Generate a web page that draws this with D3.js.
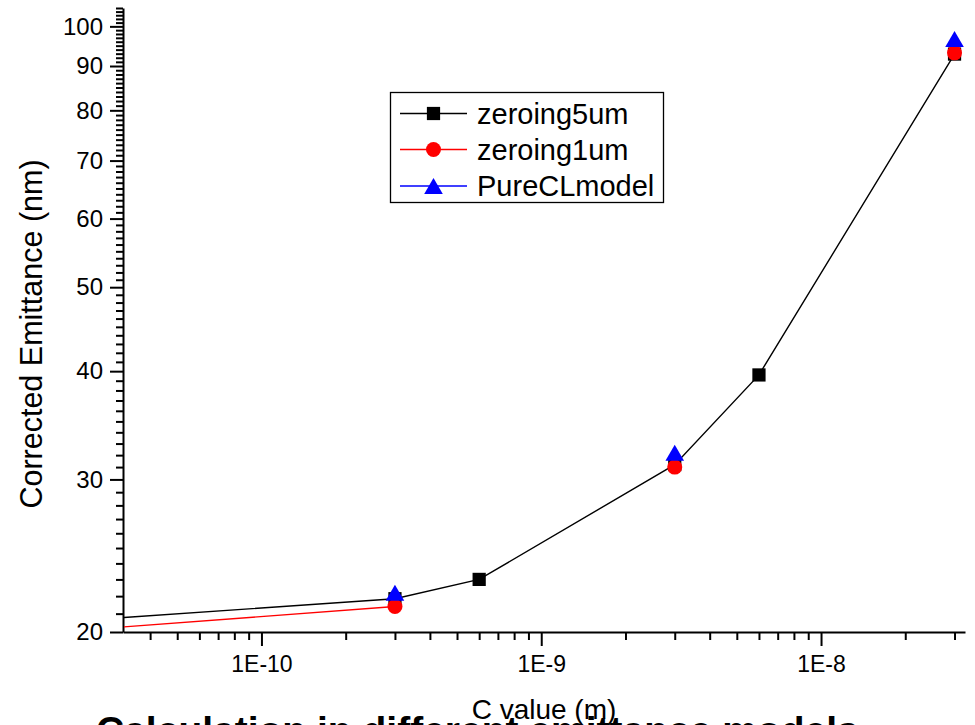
<!DOCTYPE html>
<html>
<head>
<meta charset="utf-8">
<script src="https://cdn.jsdelivr.net/npm/d3@7"></script>
<style>
  body { margin: 0; background: #fff; }
  svg { display: block; }
  text { font-family: "Liberation Sans", Arial, sans-serif; fill: #000; }
</style>
</head>
<body>
<svg id="chart" width="975" height="725"></svg>
<script>
// C values (m) and corrected emittance (nm) for each model; null = no measurement
const cValues     = [3e-11, 3e-10, 6e-10, 3e-9, 6e-9, 3e-8];
const zeroing5um  = [20.75, 21.85, 23.0, 31.2, 39.6, 92.9];
const zeroing1um  = [20.24, 21.4, null, 31.0, null, 93.2];
const pureCLmodel = [null, 22.2, null, 32.2, null, 96.7];
const seriesNames = ["zeroing5um", "zeroing1um", "PureCLmodel"];

const xTickValues = [1e-10, 1e-9, 1e-8];
const xTickLabels = ["1E-10", "1E-9", "1E-8"];
const yTickValues = [20, 30, 40, 50, 60, 70, 80, 90, 100];
const yTickLabels = ["20", "30", "40", "50", "60", "70", "80", "90", "100"];

const xTitle = "C value (m)";
const yTitle = "Corrected Emittance (nm)";
const caption = "Calculation in different emittance models";

const svg = d3.select("#chart");
const plotLeft = 123, plotRight = 965, plotTop = 8, plotBottom = 632;

const x = d3.scaleLog().domain([3.2e-11, 3.27e-8]).range([plotLeft, plotRight]);
const y = d3.scaleLog().domain([20, 105]).range([plotBottom, plotTop]);

// minor ticks: 2..9 per decade on x, every unit on y
const xMinor = [];
for (let e = -11; e <= -8; e++) for (let m = 2; m <= 9; m++) {
  const v = m * Math.pow(10, e);
  if (v >= x.domain()[0] && v <= x.domain()[1]) xMinor.push(v);
}
const yMinor = d3.range(21, 106).filter(v => v % 10 !== 0);

// caption (bold, runs off the bottom edge)
svg.append("text")
  .attr("x", 96).attr("y", 744)
  .attr("font-size", 39).attr("font-weight", "bold")
  .text(caption);

// axes
const gx = svg.append("g").attr("transform", `translate(0,${plotBottom})`);
gx.append("g").call(d3.axisBottom(x).tickValues(xMinor).tickFormat("").tickSize(8).tickSizeOuter(0))
  .call(g => g.select(".domain").remove());
gx.append("g").call(d3.axisBottom(x).tickValues(xTickValues)
    .tickFormat((d, i) => xTickLabels[i]).tickSize(14).tickSizeOuter(0).tickPadding(10))
  .call(g => g.selectAll("text").attr("font-size", 23).attr("font-family", null));

const gy = svg.append("g").attr("transform", `translate(${plotLeft},0)`);
gy.append("g").call(d3.axisLeft(y).tickValues(yMinor).tickFormat("").tickSize(7).tickSizeOuter(0))
  .call(g => g.select(".domain").remove());
gy.append("g").call(d3.axisLeft(y).tickValues(yTickValues)
    .tickFormat((d, i) => yTickLabels[i]).tickSize(13).tickSizeOuter(0).tickPadding(7))
  .call(g => g.selectAll("text").attr("font-size", 24).attr("font-family", null));

svg.selectAll(".tick line").attr("stroke", "#000").attr("stroke-width", 2);
svg.selectAll(".domain").attr("stroke", "#000").attr("stroke-width", 2);

// axis titles
svg.append("text")
  .attr("transform", `translate(42,334) rotate(-90)`)
  .attr("text-anchor", "middle").attr("font-size", 30.5)
  .text(yTitle);
svg.append("text")
  .attr("x", (plotLeft + plotRight) / 2).attr("y", 719)
  .attr("text-anchor", "middle").attr("font-size", 28)
  .text(xTitle);

// plot area clip
svg.append("clipPath").attr("id", "plot-clip")
  .append("rect").attr("x", plotLeft + 1).attr("y", plotTop)
  .attr("width", plotRight - plotLeft).attr("height", plotBottom - plotTop - 1);
const plot = svg.append("g").attr("clip-path", "url(#plot-clip)");

const series = [
  { name: seriesNames[0], values: zeroing5um, color: "#000000", shape: d3.symbolSquare, size: 175 },
  { name: seriesNames[1], values: zeroing1um, color: "#ff0000", shape: d3.symbolCircle, size: 177 },
  { name: seriesNames[2], values: pureCLmodel, color: "#0000ff", shape: d3.symbolTriangle, size: 150 }
];

const line = d3.line()
  .defined(d => d[1] != null)
  .x(d => x(d[0])).y(d => y(d[1]));

series.forEach(s => {
  plot.append("path")
    .datum(cValues.map((c, i) => [c, s.values[i]]))
    .attr("fill", "none").attr("stroke", s.color).attr("stroke-width", 1.4)
    .attr("d", line);
});

function markerPath(s) {
  return d3.symbol().type(s.shape).size(s.size)();
}
// shift the triangle so its bounding box is centred on the point
function markerOffset(s) {
  if (s.shape === d3.symbolTriangle) {
    const b = Math.sqrt(s.size / (3 * Math.sqrt(3)));
    return 0.5 * b;
  }
  return 0;
}

series.forEach(s => {
  plot.append("g").selectAll("path")
    .data(cValues.map((c, i) => [c, s.values[i]]).filter(d => d[1] != null))
    .join("path")
    .attr("transform", d => `translate(${x(d[0])},${y(d[1]) + markerOffset(s)})`)
    .attr("d", markerPath(s))
    .attr("fill", s.color);
});

// legend
const lg = svg.append("g");
lg.append("rect")
  .attr("x", 390.5).attr("y", 92.5).attr("width", 273).attr("height", 110)
  .attr("fill", "#fff").attr("stroke", "#000").attr("stroke-width", 1.3);
const rowY = [113.5, 149.5, 186];
series.forEach((s, i) => {
  const r = lg.append("g").attr("transform", `translate(0,${rowY[i]})`);
  r.append("line").attr("x1", 400).attr("x2", 467).attr("y1", 0).attr("y2", 0)
    .attr("stroke", s.color).attr("stroke-width", 1.4);
  r.append("path").attr("transform", `translate(433.5,${markerOffset(s)})`)
    .attr("d", markerPath(s)).attr("fill", s.color);
  r.append("text").attr("x", 477).attr("y", 10).attr("font-size", 29).text(s.name);
});
</script>
</body>
</html>
